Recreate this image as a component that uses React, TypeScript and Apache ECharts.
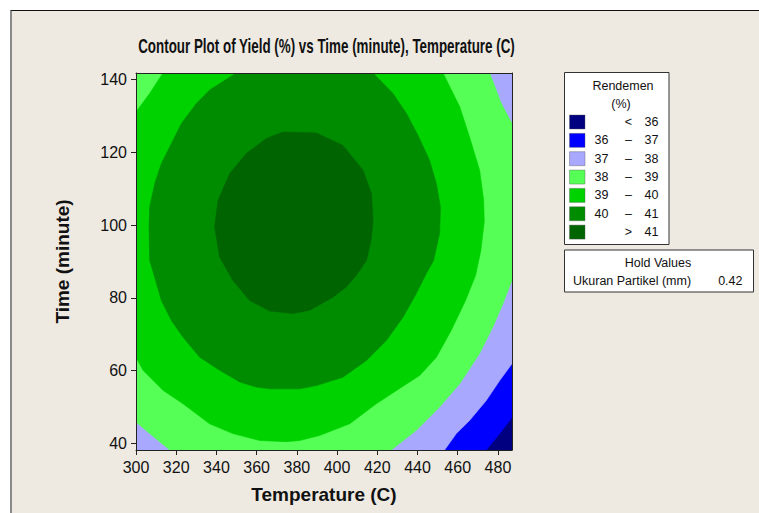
import React, { useEffect, useRef } from "react";
import * as echarts from "echarts";

// ---- Data ----
const chartTitle = "Contour Plot of Yield (%) vs Time (minute), Temperature (C)";
const xName = "Temperature (C)";
const yName = "Time (minute)";
const xTicks = [300, 320, 340, 360, 380, 400, 420, 440, 460, 480];
const yTicks = [40, 60, 80, 100, 120, 140];
const xRange = [300, 487];
const yRange = [38.2, 141.8];

const legendTitle = ["Rendemen", "(%)"];
const levelColors = ["#000080", "#0000FF", "#A8A8FF", "#55FF55", "#00D200", "#008C00", "#006400"];
const legendLow = ["", "36", "37", "38", "39", "40", ""];
const legendSym = ["<", "–", "–", "–", "–", "–", ">"];
const legendHigh = ["36", "37", "38", "39", "40", "41", "41"];
const holdTitle = "Hold Values";
const holdName = "Ukuran Partikel (mm)";
const holdValue = "0.42";

// contour regions (Temperature, Time) — each polygon is the area at or above a level
const regionAll = [[300, 38.2], [487, 38.2], [487, 141.8], [300, 141.8]];
const regionAbove36 = [[300, 38.2], [474.2, 38.2], [480.9, 42.7], [487, 47.1], [487, 141.8], [300, 141.8]];
const regionAbove37 = [
  [300, 38.2], [453.5, 38.2], [459.3, 42.7], [465.9, 46.3], [474.2, 51.8], [480.9, 57.3],
  [487, 61.9], [487, 141.8], [300, 141.8],
];
const regionAbove38 = [
  [300, 45.9], [306.8, 42.7], [316.8, 38.2], [427.0, 38.2], [439.4, 43.6], [451.0, 50.0],
  [461.0, 56.4], [470.9, 64.7], [477.5, 72.0], [482.5, 78.4], [487, 84.8], [487, 127.9],
  [481.7, 133.4], [475.9, 141.8], [300, 141.8],
];
const regionAbove39 = [
  [313.4, 141.8], [452.7, 141.8], [461.0, 132.5], [465.9, 124.2], [470.9, 115.1], [472.9, 106.8],
  [473.2, 101.0], [471.5, 93.0], [468.9, 86.2], [463.9, 79.3], [456.8, 71.1], [449.4, 63.7],
  [441.1, 58.7], [431.1, 55.1], [419.5, 50.9], [406.3, 45.4], [391.3, 42.2], [381.4, 40.8],
  [374.8, 40.5], [361.5, 40.8], [348.2, 42.7], [336.6, 45.4], [323.4, 50.9], [313.4, 54.6],
  [303.5, 60.1], [300, 63.7], [300, 131.1], [306.8, 136.2],
];
const regionAbove40 = [
  [349.9, 141.8], [336.6, 137.1], [330.0, 133.4], [322.6, 127.9], [317.6, 122.4], [312.6, 116.9],
  [309.3, 111.4], [306.8, 105.0], [306.5, 99.5], [306.8, 90.3], [309.3, 85.7], [312.6, 79.3],
  [317.6, 73.8], [323.4, 69.2], [331.7, 63.7], [341.6, 60.1], [351.6, 56.9], [359.9, 55.5],
  [366.5, 55.0], [381.4, 55.0], [389.7, 55.9], [402.9, 58.2], [414.6, 62.8], [424.5, 68.3],
  [432.8, 74.7], [439.4, 81.2], [444.4, 86.7], [448.0, 90.3], [451.0, 97.7], [451.4, 105.0],
  [449.4, 111.4], [446.0, 117.8], [440.2, 124.7], [434.5, 130.7], [427.8, 136.2], [417.9, 141.8],
];
const regionAbove41 = [
  [373.1, 125.6], [389.7, 125.3], [402.9, 121.9], [412.9, 115.1], [417.1, 108.7], [417.9, 101.3],
  [416.9, 95.8], [414.6, 90.3], [409.6, 86.2], [404.6, 83.0], [398.0, 80.2], [386.4, 76.6],
  [378.1, 75.7], [366.5, 76.4], [356.5, 79.3], [348.2, 84.8], [341.6, 91.2], [339.1, 99.5],
  [340.8, 106.8], [346.6, 114.2], [354.9, 119.7], [364.8, 123.8],
];
const regions = [regionAll, regionAbove36, regionAbove37, regionAbove38, regionAbove39, regionAbove40, regionAbove41];

const FONT = "'Liberation Sans', Arial, sans-serif";

export default function App() {
  const ref = useRef<HTMLDivElement>(null);

  useEffect(() => {
    if (!ref.current) return;
    const chart = echarts.init(ref.current, null, { renderer: "svg" });

    const legendX = 564.5, legendY = 72.5;
    const rowY0 = 122, rowStep = 18.35;
    const txt = (x: number, y: number, text: string, align: string) => ({
      type: "text", x, y,
      style: { text, fontSize: 12.5, fontFamily: FONT, fill: "#111", textAlign: align, textVerticalAlign: "middle" },
    });
    const legendGraphics: any[] = [
      { type: "rect", shape: { x: legendX, y: legendY, width: 104.5, height: 172 }, style: { fill: "#fff", stroke: "#333", lineWidth: 1 } },
      txt(623, 86, legendTitle[0], "center"),
      txt(621, 104, legendTitle[1], "center"),
      { type: "rect", shape: { x: legendX, y: 250, width: 189, height: 42 }, style: { fill: "#fff", stroke: "#333", lineWidth: 1 } },
      txt(658, 262.5, holdTitle, "center"),
      txt(573, 281, holdName, "left"),
      txt(742.5, 281, holdValue, "right"),
    ];
    levelColors.forEach((c, i) => {
      const cy = rowY0 + i * rowStep;
      legendGraphics.push({ type: "rect", shape: { x: 569.5, y: cy - 7, width: 15.5, height: 14 }, style: { fill: c, stroke: "#555", lineWidth: 0.4 } });
      if (legendLow[i]) legendGraphics.push(txt(601.5, cy, legendLow[i], "center"));
      legendGraphics.push(txt(628.5, cy, legendSym[i], "center"));
      legendGraphics.push(txt(651.5, cy, legendHigh[i], "center"));
    });

    const hiddenAxis = {
      type: "value" as const,
      axisLine: { show: true, onZero: false, lineStyle: { color: "#222", width: 1 } },
      axisTick: { show: false },
      axisLabel: { show: false },
      splitLine: { show: false },
      z: 10,
    };

    chart.setOption({
      animation: false,
      backgroundColor: "transparent",
      grid: { left: 136, top: 73, width: 376, height: 377, containLabel: false },
      graphic: [
        {
          type: "text", x: 326.5, y: 47, scaleX: 0.687,
          style: { text: chartTitle, fontSize: 19.5, fontWeight: "bold", fontFamily: FONT, fill: "#111", textAlign: "center", textVerticalAlign: "middle" },
        },
        ...legendGraphics,
      ],
      xAxis: [
        {
          type: "value", min: xRange[0], max: xRange[1], position: "bottom",
          axisLine: { show: true, onZero: false, lineStyle: { color: "#222", width: 1 } },
          axisTick: { show: true, length: 5, customValues: xTicks, lineStyle: { color: "#222" } },
          axisLabel: { customValues: xTicks, fontSize: 16, fontFamily: FONT, color: "#111", margin: 9 },
          splitLine: { show: false },
          name: xName, nameLocation: "middle", nameGap: 35,
          nameTextStyle: { fontSize: 19, fontWeight: "bold", fontFamily: FONT, color: "#111" },
          z: 10,
        },
        { ...hiddenAxis, min: xRange[0], max: xRange[1], position: "top" },
      ],
      yAxis: [
        {
          type: "value", min: yRange[0], max: yRange[1], position: "left",
          axisLine: { show: true, onZero: false, lineStyle: { color: "#222", width: 1 } },
          axisTick: { show: true, length: 5, customValues: yTicks, lineStyle: { color: "#222" } },
          axisLabel: { customValues: yTicks, fontSize: 16, fontFamily: FONT, color: "#111", margin: 9 },
          splitLine: { show: false },
          name: yName, nameLocation: "middle", nameGap: 64, nameRotate: 90,
          nameTextStyle: { fontSize: 19, fontWeight: "bold", fontFamily: FONT, color: "#111" },
          z: 10,
        },
        { ...hiddenAxis, min: yRange[0], max: yRange[1], position: "right" },
      ],
      series: [
        {
          type: "custom",
          coordinateSystem: "cartesian2d",
          xAxisIndex: 0,
          yAxisIndex: 0,
          clip: true,
          silent: true,
          data: regions.map((_, i) => [xRange[0], yRange[0], i]),
          encode: { x: 0, y: 1 },
          renderItem: (params: any, api: any) => {
            const i = api.value(2);
            const pts = regions[i].map((p) => api.coord(p));
            return {
              type: "polygon",
              shape: { points: pts },
              style: { fill: levelColors[i], stroke: levelColors[i], lineWidth: 0.6 },
            };
          },
        },
      ],
    });

    return () => chart.dispose();
  }, []);

  return (
    <div style={{ position: "fixed", left: 0, top: 0, width: 759, height: 513, background: "#fff", overflow: "hidden" }}>
      <div
        style={{
          position: "absolute", left: 10, top: 10, right: 0, bottom: 0,
          background: "#EEEAE1", borderTop: "1px solid #111", borderLeft: "2px solid #8a8a8a",
        }}
      />
      <div ref={ref} style={{ position: "absolute", left: 0, top: 0, width: 759, height: 513 }} />
    </div>
  );
}
